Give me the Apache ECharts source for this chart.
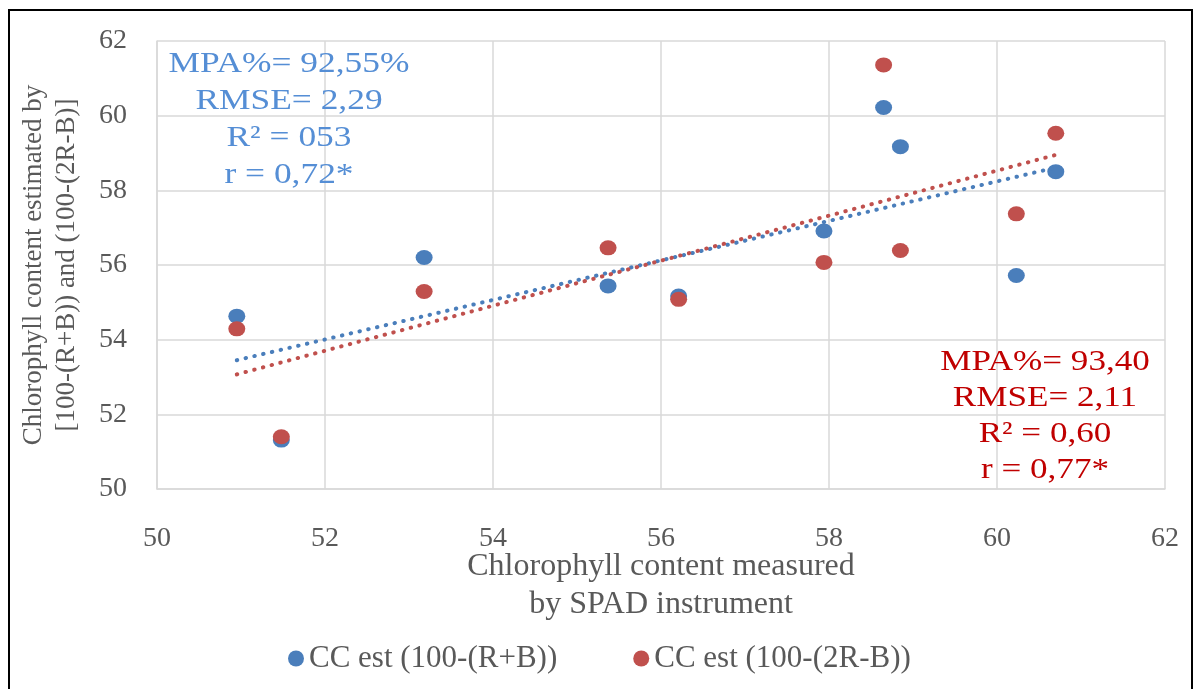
<!DOCTYPE html>
<html lang="en">
<head>
    <meta charset="utf-8">
    <title>Chlorophyll content</title>
    <script src="https://cdn.jsdelivr.net/npm/echarts@6/dist/echarts.min.js"></script>
    <style>
        html, body { margin: 0; padding: 0; background: #fff; }
        #main { width: 1197px; height: 689px; }
    </style>
</head>
<body>
    <div id="main"></div>

    <script type="text/javascript">
    // SPAD measured values (x) and the two estimates (y)
    var spadMeasured = [50.95, 51.48, 53.18, 55.37, 56.21, 57.94, 58.65, 58.85, 60.23, 60.70];
    var ccRB  = [54.63, 51.31, 56.20, 55.44, 55.17, 56.91, 60.22, 59.17, 55.72, 58.50];
    var cc2RB = [54.29, 51.40, 55.29, 56.46, 55.08, 56.07, 61.36, 56.39, 57.37, 59.53];

    // linear trendlines, end points
    var trendX     = [50.95, 60.70];
    var trendRB    = [53.45, 58.61];
    var trend2RB   = [53.07, 58.95];

    var axisTicks = [50, 52, 54, 56, 58, 60, 62];

    var seriesNames = ['CC est (100-(R+B))', 'CC est (100-(2R-B))'];

    var blueNote = ['MPA%= 92,55%', 'RMSE= 2,29', 'R² = 053', 'r = 0,72*'];
    var redNote  = ['MPA%= 93,40', 'RMSE= 2,11', 'R² = 0,60', 'r = 0,77*'];

    var BLUE = '#4a7ebb', RED = '#c0504d';
    var FONT = "'Liberation Serif', 'Times New Roman', serif";

    function pairs(xs, ys) {
        return xs.map(function (x, i) { return [x, ys[i]]; });
    }

    var myChart = echarts.init(document.getElementById('main'));

    var axisCommon = {
        type: 'value',
        min: axisTicks[0],
        max: axisTicks[axisTicks.length - 1],
        interval: 2,
        axisLine: { show: true, lineStyle: { color: '#d9d9d9', width: 1.5 } },
        axisTick: { show: false },
        splitLine: { show: true, lineStyle: { color: '#d9d9d9', width: 1.5 } },
        nameLocation: 'middle',
        nameMoveOverlap: false
    };

    myChart.setOption({
        animation: false,
        textStyle: { fontFamily: FONT },
        grid: { left: 157, right: 32, top: 41, bottom: 200 },
        xAxis: Object.assign({}, axisCommon, {
            name: 'Chlorophyll content measured\nby SPAD instrument',
            nameGap: 59,
            nameTextStyle: { color: '#595959', fontFamily: FONT, fontSize: 32, lineHeight: 38 },
            axisLabel: { color: '#595959', fontFamily: FONT, fontSize: 28, margin: 36 }
        }),
        yAxis: Object.assign({}, axisCommon, {
            name: 'Chlorophyll content estimated by\n[100-(R+B)) and (100-(2R-B)]',
            nameGap: 74,
            nameTextStyle: { color: '#595959', fontFamily: FONT, fontSize: 27, lineHeight: 33 },
            axisLabel: { color: '#595959', fontFamily: FONT, fontSize: 28, margin: 30 }
        }),
        legend: {
            data: seriesNames,
            top: 638,
            left: 283,
            icon: 'circle',
            itemWidth: 16,
            itemHeight: 16,
            itemGap: 76,
            textStyle: { color: '#595959', fontFamily: FONT, fontSize: 31 }
        },
        series: [
            {
                name: seriesNames[0],
                type: 'scatter',
                symbolSize: [17, 15],
                itemStyle: { color: BLUE, opacity: 1 },
                data: pairs(spadMeasured, ccRB),
                z: 2
            },
            {
                name: seriesNames[1],
                type: 'scatter',
                symbolSize: [17, 15],
                itemStyle: { color: RED, opacity: 1 },
                data: pairs(spadMeasured, cc2RB),
                z: 3
            },
            {
                name: 'trend RB',
                type: 'line',
                showSymbol: false,
                silent: true,
                lineStyle: { color: BLUE, width: 4, type: [0.5, 8.5], cap: 'round' },
                data: pairs(trendX, trendRB),
                z: 4
            },
            {
                name: 'trend 2RB',
                type: 'line',
                showSymbol: false,
                silent: true,
                lineStyle: { color: RED, width: 4, type: [0.5, 8.5], cap: 'round' },
                data: pairs(trendX, trend2RB),
                z: 4
            }
        ],
        graphic: [
            {
                type: 'rect',
                shape: { x: 9, y: 10, width: 1183, height: 700 },
                style: { fill: null, stroke: '#000', lineWidth: 2 },
                silent: true
            },
            {
                type: 'text',
                x: 289, y: 120,
                scaleX: 1.18,
                style: {
                    text: blueNote.join('\n'),
                    fill: '#558ed5',
                    font: '30px ' + FONT,
                    lineHeight: 37,
                    align: 'center',
                    verticalAlign: 'middle'
                },
                z: 10
            },
            {
                type: 'text',
                x: 1045, y: 416,
                scaleX: 1.17,
                style: {
                    text: redNote.join('\n'),
                    fill: '#c00000',
                    font: '30px ' + FONT,
                    lineHeight: 36,
                    align: 'center',
                    verticalAlign: 'middle'
                },
                z: 10
            }
        ]
    });
    </script>
</body>
</html>
